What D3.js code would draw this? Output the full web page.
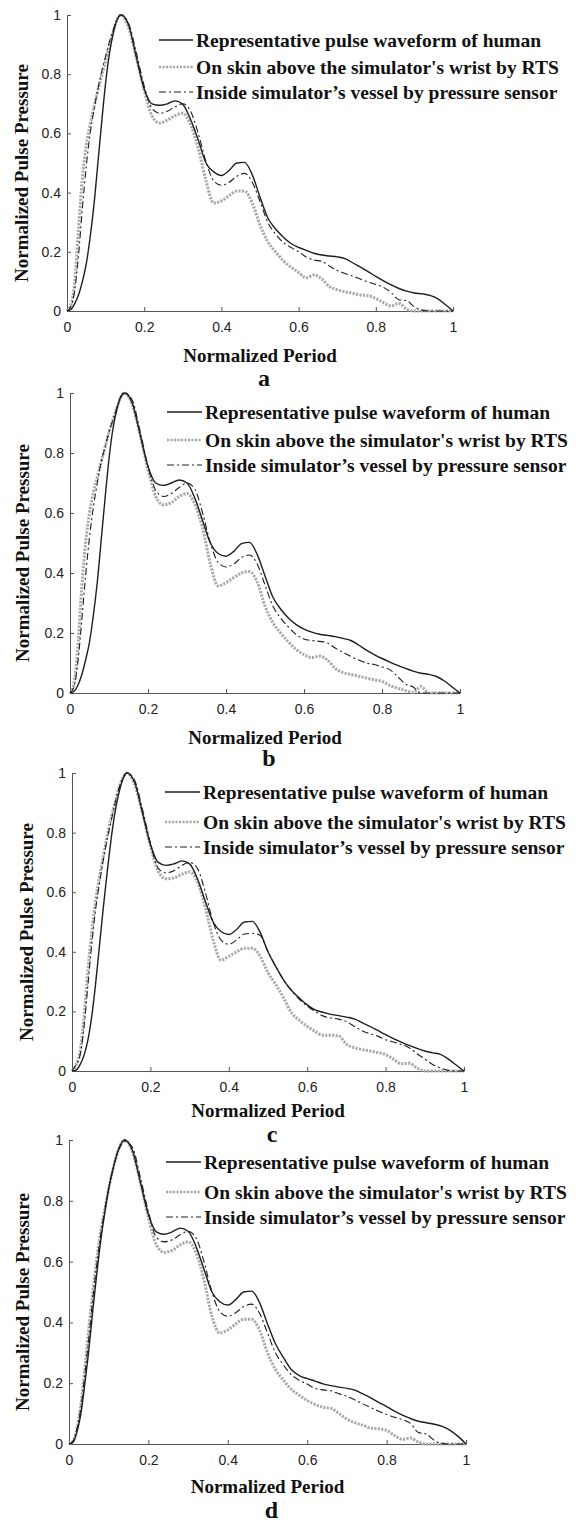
<!DOCTYPE html>
<html><head><meta charset="utf-8">
<script src="https://cdn.jsdelivr.net/npm/d3@7"></script>
<style>
html,body{margin:0;padding:0;background:#fff;}
svg{display:block;}
</style></head>
<body>
<svg id="chart" width="579" height="1523"></svg>
<script>
// ---------- DATA ----------
const periodX = [0,0.01,0.02,0.03,0.04,0.05,0.06,0.07,0.08,0.09,0.10,0.11,0.12,0.13,0.14,
  0.16,0.18,0.20,0.22,0.24,0.26,0.28,0.30,0.32,0.34,0.36,0.38,0.40,0.42,0.44,0.46,0.48,0.50,
  0.52,0.54,0.56,0.58,0.60,0.62,0.64,0.66,0.68,0.70,0.72,0.74,0.76,0.78,0.80,0.82,0.84,0.86,
  0.88,0.90,0.92,0.94,0.96,0.98,1.00];

// panel a
const humanA = [0,0.005,0.025,0.055,0.1,0.16,0.25,0.36,0.5,0.64,0.77,0.87,0.94,0.985,1.0,
  0.965,0.855,0.75,0.70,0.695,0.70,0.71,0.698,0.648,0.578,0.5,0.47,0.458,0.475,0.5,0.502,0.46,0.385,
  0.315,0.278,0.25,0.228,0.215,0.205,0.195,0.189,0.186,0.183,0.177,0.163,0.148,0.133,0.117,0.102,0.088,0.076,
  0.067,0.061,0.058,0.053,0.042,0.022,0];
const rtsA = [0,0.02,0.1,0.28,0.45,0.56,0.63,0.69,0.745,0.795,0.845,0.895,0.945,0.985,1.0,
  0.955,0.855,0.745,0.66,0.635,0.645,0.66,0.668,0.63,0.55,0.44,0.365,0.372,0.39,0.405,0.405,0.365,0.29,
  0.235,0.2,0.17,0.148,0.13,0.112,0.122,0.108,0.082,0.072,0.065,0.06,0.054,0.052,0.042,0.028,0.017,0.026,
  0.006,0,0,0,0,0,0];
const sensorA = [0,0.015,0.07,0.19,0.35,0.49,0.6,0.68,0.75,0.81,0.86,0.91,0.95,0.985,1.0,
  0.97,0.87,0.76,0.685,0.668,0.675,0.69,0.70,0.675,0.6,0.505,0.44,0.425,0.435,0.455,0.465,0.435,0.37,
  0.3,0.26,0.232,0.215,0.2,0.182,0.172,0.168,0.152,0.137,0.127,0.118,0.108,0.098,0.09,0.08,0.062,0.038,
  0.035,0.014,0.003,0,0,0,0];

// panel b
const humanB = [0,0.005,0.025,0.06,0.11,0.17,0.26,0.37,0.51,0.65,0.78,0.88,0.945,0.987,1.0,
  0.965,0.86,0.755,0.70,0.692,0.70,0.71,0.70,0.65,0.575,0.5,0.465,0.456,0.472,0.498,0.502,0.462,0.39,
  0.32,0.28,0.25,0.228,0.213,0.203,0.196,0.192,0.188,0.182,0.175,0.16,0.143,0.128,0.115,0.103,0.092,0.082,
  0.073,0.066,0.062,0.055,0.04,0.02,0];
const rtsB = [0,0.03,0.15,0.35,0.5,0.6,0.67,0.72,0.77,0.82,0.87,0.91,0.95,0.985,1.0,
  0.96,0.86,0.745,0.655,0.627,0.635,0.655,0.665,0.63,0.55,0.43,0.357,0.368,0.385,0.4,0.405,0.37,0.29,
  0.235,0.2,0.17,0.145,0.128,0.118,0.123,0.11,0.082,0.068,0.062,0.056,0.05,0.044,0.039,0.025,0.016,0.008,
  0.002,0.022,0,0,0,0,0];
const sensorB = [0,0.02,0.1,0.24,0.39,0.52,0.62,0.7,0.77,0.82,0.87,0.91,0.95,0.985,1.0,
  0.975,0.87,0.755,0.675,0.655,0.665,0.685,0.70,0.68,0.6,0.5,0.435,0.42,0.43,0.452,0.46,0.43,0.36,
  0.29,0.25,0.22,0.195,0.18,0.175,0.172,0.167,0.15,0.135,0.122,0.11,0.1,0.095,0.087,0.078,0.055,0.03,
  0.02,0,0,0,0,0,0];

// panel c
const humanC = [0,0.003,0.02,0.05,0.1,0.18,0.29,0.42,0.55,0.67,0.78,0.87,0.935,0.98,1.0,
  0.968,0.865,0.76,0.70,0.69,0.695,0.705,0.695,0.645,0.57,0.5,0.468,0.458,0.475,0.5,0.502,0.465,0.40,
  0.35,0.305,0.27,0.245,0.222,0.205,0.197,0.19,0.186,0.181,0.175,0.162,0.15,0.136,0.122,0.109,0.097,0.086,
  0.076,0.067,0.061,0.056,0.04,0.02,0];
const rtsC = [0,0.02,0.06,0.17,0.33,0.46,0.57,0.65,0.72,0.79,0.85,0.9,0.95,0.985,1.0,
  0.96,0.865,0.755,0.67,0.645,0.648,0.66,0.668,0.635,0.55,0.44,0.372,0.385,0.4,0.412,0.412,0.385,0.33,
  0.29,0.245,0.195,0.17,0.15,0.133,0.12,0.12,0.118,0.09,0.078,0.072,0.067,0.062,0.055,0.04,0.024,0.026,
  0.01,0,0,0,0,0,0];
const sensorC = [0,0.02,0.05,0.14,0.28,0.42,0.54,0.63,0.71,0.78,0.84,0.9,0.95,0.985,1.0,
  0.975,0.875,0.765,0.68,0.665,0.672,0.69,0.70,0.68,0.6,0.5,0.44,0.425,0.44,0.46,0.462,0.455,0.4,
  0.35,0.305,0.27,0.24,0.218,0.2,0.185,0.178,0.174,0.166,0.15,0.135,0.125,0.117,0.105,0.097,0.089,0.078,
  0.058,0.04,0.022,0.01,0.002,0,0];

// panel d
const humanD = [0,0.005,0.04,0.1,0.2,0.31,0.44,0.56,0.67,0.76,0.84,0.9,0.95,0.985,1.0,
  0.965,0.86,0.755,0.698,0.69,0.698,0.71,0.70,0.65,0.575,0.5,0.468,0.457,0.475,0.5,0.503,0.465,0.395,
  0.33,0.285,0.245,0.225,0.215,0.207,0.198,0.192,0.187,0.183,0.177,0.165,0.152,0.137,0.123,0.108,0.095,0.084,
  0.075,0.07,0.065,0.058,0.045,0.025,0];
const rtsD = [0,0.01,0.05,0.13,0.25,0.38,0.5,0.61,0.7,0.77,0.84,0.9,0.95,0.985,1.0,
  0.96,0.86,0.745,0.655,0.63,0.637,0.655,0.665,0.63,0.54,0.42,0.365,0.375,0.395,0.41,0.41,0.375,0.3,
  0.245,0.21,0.18,0.16,0.143,0.13,0.121,0.117,0.1,0.082,0.07,0.062,0.052,0.05,0.045,0.028,0.015,0.02,
  0.006,0,0,0,0,0,0];
const sensorD = [0,0.01,0.05,0.12,0.23,0.35,0.48,0.59,0.69,0.77,0.84,0.9,0.95,0.98,0.995,
  0.975,0.875,0.765,0.68,0.665,0.672,0.688,0.70,0.678,0.6,0.5,0.435,0.42,0.432,0.452,0.46,0.43,0.365,
  0.3,0.26,0.228,0.21,0.197,0.183,0.178,0.175,0.165,0.157,0.145,0.132,0.12,0.108,0.097,0.088,0.08,0.068,
  0.038,0.033,0.012,0.002,0,0,0];

const xTicks = [0,0.2,0.4,0.6,0.8,1];
const yTicks = [0,0.2,0.4,0.6,0.8,1];
const tickLabels = ["0","0.2","0.4","0.6","0.8","1"];
const seriesNames = ["Representative pulse waveform of human",
                     "On skin above the simulator's wrist by RTS",
                     "Inside simulator\u2019s vessel by pressure sensor"];
const panelLetters = ["a","b","c","d"];
const xTitle = "Normalized Period";
const yTitle = "Normalized Pulse Pressure";

const panelSeries = [
  [humanA, rtsA, sensorA],
  [humanB, rtsB, sensorB],
  [humanC, rtsC, sensorC],
  [humanD, rtsD, sensorD]
];

// ---------- LAYOUT ----------
const layouts = [
  {left:67, right:453, top:15,   bottom:311,  legLine:159, legText:196, rows:[25,52,77], yTitleX:21, npY:355,  letterY:379},
  {left:70, right:460, top:393,  bottom:693,  legLine:167, legText:205, rows:[19,47,72], yTitleX:22, npY:737,  letterY:759},
  {left:72, right:464, top:773,  bottom:1071, legLine:165, legText:203, rows:[19,49,74], yTitleX:26, npY:1110, letterY:1135},
  {left:69, right:466, top:1140, bottom:1444, legLine:166, legText:204, rows:[22,52,77], yTitleX:22, npY:1486, letterY:1511}
];

const styles = [
  {stroke:"#1e1e1e", width:1.4, dash:null},
  {stroke:"#a9a9a9", width:3.0, dash:"2.2,1.3"},
  {stroke:"#1e1e1e", width:1.1, dash:"7,3,2,3"}
];
const drawOrder = [1,2,0];

const svg = d3.select("#chart");
const serif = "'Liberation Serif','Times New Roman',serif";
const sans = "'Liberation Sans',Arial,sans-serif";

layouts.forEach((L, pi) => {
  const g = svg.append("g");
  const x = d3.scaleLinear().domain([0,1]).range([L.left, L.right]);
  const y = d3.scaleLinear().domain([0,1]).range([L.bottom, L.top]);

  // axes
  const xAxis = d3.axisBottom(x).tickValues(xTicks).tickFormat((d,i)=>tickLabels[i])
    .tickSizeInner(-4).tickSizeOuter(0).tickPadding(11);
  const yAxis = d3.axisLeft(y).tickValues(yTicks).tickFormat((d,i)=>tickLabels[i])
    .tickSizeInner(-4).tickSizeOuter(0).tickPadding(6);
  const gx = g.append("g").attr("transform", `translate(0,${L.bottom})`).call(xAxis);
  const gy = g.append("g").attr("transform", `translate(${L.left},0)`).call(yAxis);
  [gx, gy].forEach(a => {
    a.selectAll("path").attr("stroke","#555").attr("stroke-width",1);
    a.selectAll("line").attr("stroke","#555").attr("stroke-width",1);
    a.selectAll("text").attr("fill","#222").style("font-family",sans).style("font-size","14px");
  });

  // lines
  const line = d3.line().x((d,i)=>x(periodX[i])).y(d=>y(d)).curve(d3.curveMonotoneX);
  drawOrder.forEach(si => {
    const s = styles[si];
    g.append("path").datum(panelSeries[pi][si])
      .attr("d", line).attr("fill","none")
      .attr("stroke", s.stroke).attr("stroke-width", s.width)
      .attr("stroke-dasharray", s.dash)
      .attr("stroke-linejoin","round");
  });

  // legend
  seriesNames.forEach((name, si) => {
    const s = styles[si];
    const ly = L.top + L.rows[si];
    g.append("line").attr("x1", L.legLine).attr("x2", L.legText - 3)
      .attr("y1", ly).attr("y2", ly)
      .attr("stroke", s.stroke).attr("stroke-width", si===1 ? 2.6 : s.width)
      .attr("stroke-dasharray", s.dash);
    g.append("text").attr("x", L.legText).attr("y", ly).attr("dy","0.35em")
      .style("font-family", serif).style("font-weight","bold").style("font-size","19.5px")
      .attr("fill","#111").text(name);
  });

  // axis titles
  g.append("text").attr("x", (L.left+L.right)/2).attr("y", L.npY).attr("dy","0.35em")
    .attr("text-anchor","middle").style("font-family",serif).style("font-weight","bold")
    .style("font-size","19px").attr("fill","#111").text(xTitle);
  const yc = (L.top+L.bottom)/2 + 10;
  g.append("text").attr("transform", `translate(${L.yTitleX},${yc}) rotate(-90)`)
    .attr("dy","0.35em").attr("text-anchor","middle").style("font-family",serif)
    .style("font-weight","bold").style("font-size","19px").attr("fill","#111").text(yTitle);

  // panel letter
  g.append("text").attr("x", (L.left+L.right)/2 + 4).attr("y", L.letterY).attr("dy","0.3em")
    .attr("text-anchor","middle").style("font-family",serif).style("font-weight","bold")
    .style("font-size","24px").attr("fill","#111").text(panelLetters[pi]);
});
</script>
</body></html>
